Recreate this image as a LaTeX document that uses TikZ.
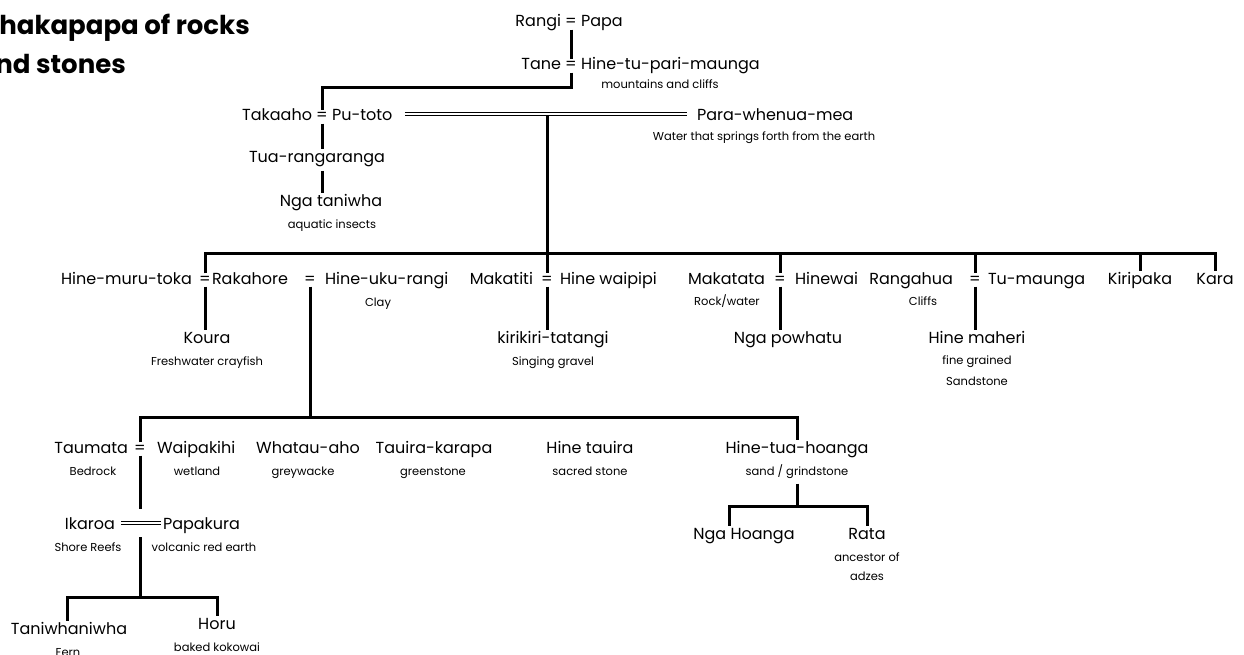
\documentclass[tikz,border=0pt]{standalone}
\usepackage{fontspec}
\setmainfont{Poppins}
\begin{document}
\begin{tikzpicture}[x=1pt,y=-1pt,
  every node/.style={inner sep=0pt, text=black},
  person/.style={font=\fontsize{16}{18}\selectfont, text height=0.75em, text depth=0.2em, outer xsep=0pt, outer ysep=6pt, anchor=base},
  note/.style={font=\fontsize{11.5}{13}\selectfont, text height=0.75em, text depth=0.25em, outer xsep=0pt, outer ysep=6pt, anchor=base},
  eqs/.style={font=\fontsize{16}{18}\selectfont, text height=1.05em, text depth=0.25em, anchor=base},
  titletext/.style={font=\fontsize{26}{30}\selectfont\bfseries, anchor=base east},
  link/.style={line width=3pt},
  union/.style={double, line width=1.3pt, double distance=2.2pt},
  gap/.style={minimum height=28pt},
]
\useasboundingbox (0,0) rectangle (1244,655);
\fill[white] (0,0) rectangle (1244,655);

% title
\node[titletext] (title1) at (250,35) {Whakapapa of rocks};
\node[titletext] (title2) at (126,74) {and stones};

% Rangi and Papa, Tane and Hine-tu-pari-maunga
\node[person, anchor=base east] (rangi) at (561,27) {Rangi};
\node[eqs] (e-rp) at (571,27) {=};
\node[person, anchor=base west] (papa) at (581,27) {Papa};

\node[person, anchor=base east] (tane) at (561,70) {Tane};
\node[eqs] (e-tane) at (571,70) {=};
\node[person, anchor=base west] (htpm) at (581,70) {Hine-tu-pari-maunga};
\node[note] (n-htpm) at (660,89) {mountains and cliffs};

% Takaaho, Pu-toto and Para-whenua-mea
\node[person, anchor=base east] (takaaho) at (312,121) {Takaaho};
\node[eqs] (e-tp) at (322,121) {=};
\node[person, anchor=base west] (putoto) at (332,121) {Pu-toto};
\node[person, anchor=base west] (para) at (697,121) {Para-whenua-mea};
\node[note] (n-para) at (764,141) {Water that springs forth from the earth};
\node[gap, minimum width=282pt] (pm) at (546,114) {};

\node[person] (tuar) at (317,163) {Tua-rangaranga};
\node[person] (ngatan) at (331,207) {Nga taniwha};
\node[note] (n-ngatan) at (332,228) {aquatic insects};

% second generation row
\node[person, anchor=base east] (hmt) at (192,284) {Hine-muru-toka};
\node[eqs] (e-hmt) at (205,284) {=};
\node[person, anchor=base west] (rakahore) at (212,284) {Rakahore};
\node[eqs] (e-rak) at (310,284) {=};
\node[person, anchor=base west] (huk) at (325,284) {Hine-uku-rangi};
\node[note] (n-huk) at (378,306) {Clay};
\node[person] (koura) at (207,343) {Koura};
\node[note] (n-koura) at (207,365) {Freshwater crayfish};

\node[person, anchor=base east] (makatiti) at (533,284) {Makatiti};
\node[eqs] (e-mak) at (547,284) {=};
\node[person, anchor=base west] (hwp) at (560,284) {Hine waipipi};
\node[person] (kiri) at (553,343) {kirikiri-tatangi};
\node[note] (n-kiri) at (553,365) {Singing gravel};

\node[person, anchor=base east] (makatata) at (765,284) {Makatata};
\node[eqs] (e-mkt) at (780,284) {=};
\node[person, anchor=base west] (hinewai) at (795,284) {Hinewai};
\node[note] (n-makatata) at (727,305) {Rock/water};
\node[person] (ngapow) at (788,343) {Nga powhatu};

\node[person, anchor=base east] (rangahua) at (953,284) {Rangahua};
\node[eqs] (e-rng) at (975,284) {=};
\node[person, anchor=base west] (tumaunga) at (988,284) {Tu-maunga};
\node[note] (n-rangahua) at (923,305) {Cliffs};
\node[person] (hmah) at (977,343) {Hine maheri};
\node[note] (n-hmah1) at (977,364) {fine grained};
\node[note] (n-hmah2) at (977,385) {Sandstone};

\node[person] (kiripaka) at (1140,284) {Kiripaka};
\node[person] (kara) at (1215,284) {Kara};

% children of Rakahore and Hine-uku-rangi
\node[person, anchor=base east] (taumata) at (128,453) {Taumata};
\node[eqs] (e-tau) at (140,453) {=};
\node[person, anchor=base west] (waipakihi) at (157,453) {Waipakihi};
\node[note] (n-taumata) at (93,475) {Bedrock};
\node[note] (n-waipakihi) at (197,475) {wetland};
\node[person] (whatau) at (308,453) {Whatau-aho};
\node[note] (n-whatau) at (303,475) {greywacke};
\node[person] (tauira) at (434,453) {Tauira-karapa};
\node[note] (n-tauira) at (433,475) {greenstone};
\node[person] (hinetauira) at (590,453) {Hine tauira};
\node[note] (n-hinetauira) at (590,475) {sacred stone};
\node[person] (htuah) at (797,453) {Hine-tua-hoanga};
\node[note] (n-htuah) at (797,475) {sand / grindstone};

\node[person] (ngahoanga) at (744,539) {Nga Hoanga};
\node[person] (rata) at (867,539) {Rata};
\node[note] (n-rata1) at (867,561) {ancestor of};
\node[note] (n-rata2) at (867,580) {adzes};

% Ikaroa and Papakura
\node[person, anchor=base east] (ikaroa) at (115,529) {Ikaroa};
\node[gap, minimum width=39pt] (ipm) at (141,523) {};
\node[person, anchor=base west] (papakura) at (163,529) {Papakura};
\node[note] (n-ikaroa) at (88,551) {Shore Reefs};
\node[note] (n-papakura) at (204,551) {volcanic red earth};
\node[person] (taniw) at (69,634) {Taniwhaniwha};
\node[note] (n-taniw) at (68,656) {Fern};
\node[person] (horu) at (217,629) {Horu};
\node[note] (n-horu) at (217,651) {baked kokowai};

% bar heights
\coordinate (bar1) at (0,253);
\coordinate (bar2) at (0,417);
\coordinate (bar3) at (0,506);
\coordinate (bar4) at (0,597);

% descent lines
\draw[link] (e-rp.south) -- (e-rp.south |- e-tane.north);
\draw[link] (e-tane.south) -- ++(0,15) -| (e-tp.north);
\draw[link] (e-tp.south) -- (e-tp.south |- tuar.north);
\draw[link] (tuar.south -| e-tp.south) -- (e-tp.south |- ngatan.north);

\draw[link] (pm.center -| e-mak.north) -- (e-mak.north);
\draw[link] (e-hmt.north) |- (bar1 -| kara.north) -- (kara.north);
\draw[link] (bar1 -| e-mkt.north) -- (e-mkt.north);
\draw[link] (bar1 -| e-rng.north) -- (e-rng.north);
\draw[link] (bar1 -| kiripaka.north) -- (kiripaka.north);

\draw[link] (e-hmt.south) -- (e-hmt.south |- koura.north);
\draw[link] (e-mak.south) -- (e-mak.south |- kiri.north);
\draw[link] (e-mkt.south) -- (e-mkt.south |- ngapow.north);
\draw[link] (e-rng.south) -- (e-rng.south |- hmah.north);

\draw[link] (e-rak.south) -- (e-rak.south |- bar2);
\draw[link] (e-tau.north) |- (bar2 -| htuah.north) -- (htuah.north);

\draw[link] (n-htuah.south) -- (n-htuah.south |- bar3);
\draw[link] ([xshift=-15pt]ngahoanga.north) |- (bar3 -| rata.north) -- (rata.north);

\draw[link] (e-tau.south) -- (e-tau.south |- ipm.north);
\draw[link] (e-tau.south |- ipm.south) -- (e-tau.south |- bar4);
\draw[link] ([xshift=-2pt]taniw.north) |- (bar4 -| horu.north) -- (horu.north);

% marriage double lines
\draw[union] (pm.west) -- (pm.east);
\draw[union] (ipm.west) -- (ipm.east);
\end{tikzpicture}
\end{document}
